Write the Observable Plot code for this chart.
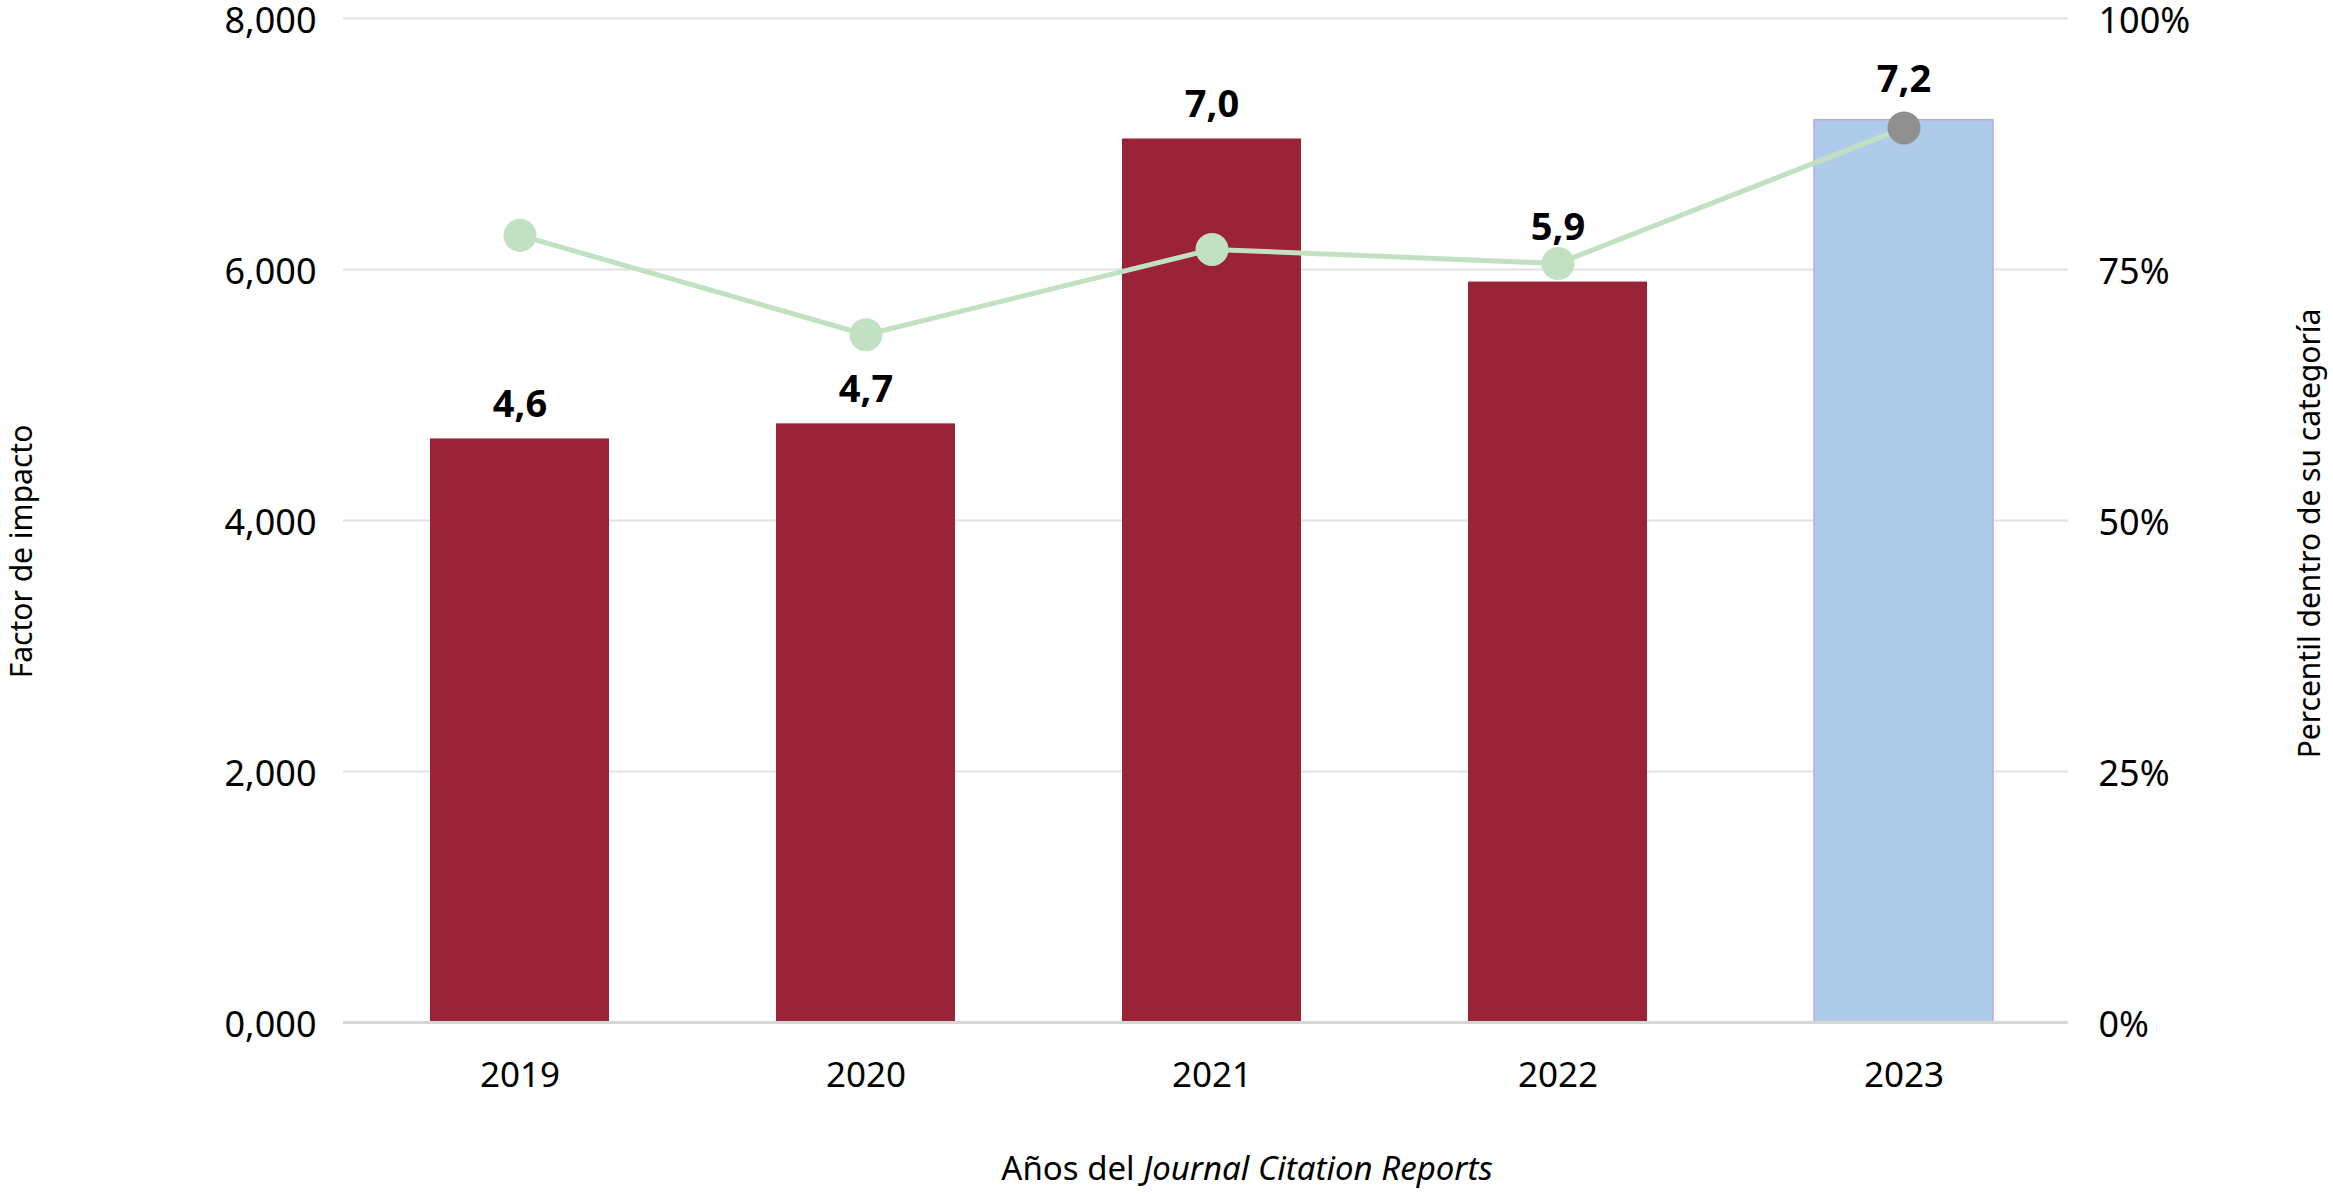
<!DOCTYPE html>
<html>
<head>
<meta charset="utf-8">
<script src="https://cdn.jsdelivr.net/npm/d3@7"></script>
<script src="https://cdn.jsdelivr.net/npm/@observablehq/plot@0.6"></script>
<style>
  html, body { margin: 0; padding: 0; background: #ffffff; }
  #chart { width: 2333px; height: 1194px; }
</style>
</head>
<body>
<div id="chart"></div>
<script>
// ---- data ----
const years = [2019, 2020, 2021, 2022, 2023];
const impactFactor = [4.65, 4.77, 7.04, 5.90, 7.19];      // left axis (bars)
const impactLabels = ["4,6", "4,7", "7,0", "5,9", "7,2"];  // labels shown above bars
const percentile = [78.4, 68.5, 77.0, 75.6, 89.1];         // right axis (line), %
const leftTicks = [0, 2, 4, 6, 8];
const rightTicks = [0, 25, 50, 75, 100];
const yTitle = "Factor de impacto";
const y2Title = "Percentil dentro de su categoría";
const xTitlePlain = "Años del ";
const xTitleItalic = "Journal Citation Reports";

const data = years.map((year, i) => ({
  year, value: impactFactor[i], label: impactLabels[i], pct: percentile[i]
}));
const yMax = 8;
const pctToY = p => p / 100 * yMax;   // map right-axis percent onto the shared y scale

const dark = "#9b2338";
const light = "#afcbea";
const green = "#c2e1c2";
const grey = "#909090";
const font = "Noto Sans, sans-serif";

const chart = Plot.plot({
  width: 2333,
  height: 1194,
  marginTop: 18,
  marginBottom: 172,
  marginLeft: 343,
  marginRight: 265,
  style: { fontFamily: font, background: "#ffffff", color: "#000000" },
  x: { type: "band", domain: years, range: [346, 2078], paddingInner: 0.482, paddingOuter: 0.241, label: null },
  y: { domain: [0, yMax], label: null },
  marks: [
    Plot.ruleY(leftTicks.filter(d => d > 0), { stroke: "#e2e2e2", strokeWidth: 2 }),
    Plot.barY(data.filter(d => d.year !== 2023), { x: "year", y: "value", fill: dark }),
    Plot.barY(data.filter(d => d.year === 2023), { x: "year", y: "value", fill: light, stroke: "#b9aae6", strokeWidth: 1.5 }),
    Plot.ruleY([0], { stroke: "#d6d6d6", strokeWidth: 3 }),
    Plot.line(data, { x: "year", y: d => pctToY(d.pct), stroke: green, strokeWidth: 5 }),
    Plot.dot(data.filter(d => d.year !== 2023), { x: "year", y: d => pctToY(d.pct), r: 16.5, fill: green, stroke: "none" }),
    Plot.dot(data.filter(d => d.year === 2023), { x: "year", y: d => pctToY(d.pct), r: 16.5, fill: grey, stroke: "none" }),
    Plot.text(data.filter(d => d.year <= 2021), { x: "year", y: "value", text: "label", lineAnchor: "bottom", dy: -22, fontSize: 38, fontWeight: "bold", fill: "#000" }),
    Plot.text(data.filter(d => d.year === 2022), { x: "year", y: "value", text: "label", lineAnchor: "bottom", dy: -42, fontSize: 38, fontWeight: "bold", fill: "#000" }),
    Plot.text(data.filter(d => d.year === 2023), { x: "year", y: "value", text: "label", lineAnchor: "bottom", dy: -28, fontSize: 38, fontWeight: "bold", fill: "#000" }),
    Plot.axisY(leftTicks, {
      anchor: "left", tickSize: 0, tickPadding: 27, fontSize: 36, dy: 3, label: null,
      tickFormat: d => d3.format(".3f")(d).replace(".", ",")
    }),
    Plot.axisY(rightTicks.map(pctToY), {
      anchor: "right", tickSize: 0, tickPadding: 30, fontSize: 36, dy: 3, label: null,
      tickFormat: d => Math.round(d / yMax * 100) + "%"
    }),
    Plot.axisX({ tickSize: 0, tickPadding: 40, fontSize: 35, label: null, tickFormat: d => String(d) }),
    Plot.text([yTitle], { frameAnchor: "left", textAnchor: "middle", lineAnchor: "middle", dx: -321, dy: 31, rotate: -90, fontSize: 30, fill: "#000" }),
    Plot.text([y2Title], { frameAnchor: "right", textAnchor: "middle", lineAnchor: "middle", dx: 242, dy: 13, rotate: -90, fontSize: 30, fill: "#000" }),
    Plot.text([xTitlePlain + xTitleItalic], { frameAnchor: "bottom", textAnchor: "middle", dx: 41, dy: 147, lineAnchor: "middle", fontSize: 33, fill: "#000" })
  ]
});

// render the italic part of the x-axis title
chart.querySelectorAll("text").forEach(t => {
  if (t.textContent === xTitlePlain + xTitleItalic) {
    t.textContent = "";
    const ns = "http://www.w3.org/2000/svg";
    const a = document.createElementNS(ns, "tspan");
    a.textContent = xTitlePlain;
    const b = document.createElementNS(ns, "tspan");
    b.textContent = xTitleItalic;
    b.setAttribute("font-style", "italic");
    t.appendChild(a);
    t.appendChild(b);
  }
});

document.getElementById("chart").appendChild(chart);
</script>
</body>
</html>
